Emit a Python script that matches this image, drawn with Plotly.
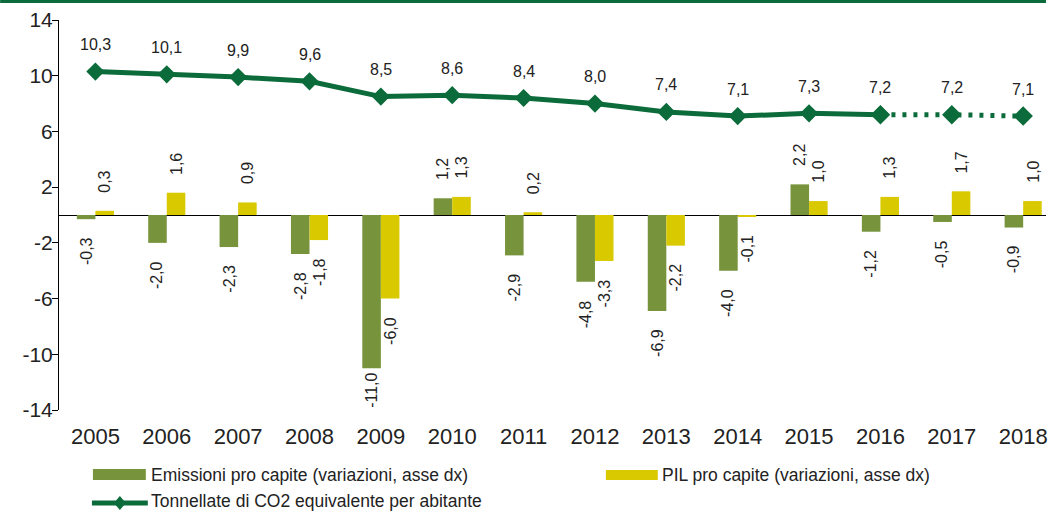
import plotly.graph_objects as go

# Data
years = ["2005", "2006", "2007", "2008", "2009", "2010", "2011",
         "2012", "2013", "2014", "2015", "2016", "2017", "2018"]
emissioni = [-0.3, -2.0, -2.3, -2.8, -11.0, 1.2, -2.9, -4.8, -6.9, -4.0, 2.2, -1.2, -0.5, -0.9]
pil = [0.3, 1.6, 0.9, -1.8, -6.0, 1.3, 0.2, -3.3, -2.2, -0.1, 1.0, 1.3, 1.7, 1.0]
tonnellate = [10.3, 10.1, 9.9, 9.6, 8.5, 8.6, 8.4, 8.0, 7.4, 7.1, 7.3, 7.2, 7.2, 7.1]
n_observed = 12  # 2005-2016 observed, 2017-2018 estimates (dotted)

y_ticks = [-14, -10, -6, -2, 2, 6, 10, 14]
y_ticktext = [str(v) for v in y_ticks]  # plain hyphen minus
Y_MIN, Y_MAX = -14, 14

label_emissioni = "Emissioni pro capite (variazioni, asse dx)"
label_pil = "PIL pro capite (variazioni, asse dx)"
label_tonn = "Tonnellate di CO2 equivalente per abitante"

GREEN_BAR = "#77933C"
YELLOW_BAR = "#D9C900"
LINE_GREEN = "#0B6B3A"
TEXT = "#222222"
FONT = "Liberation Sans, Arial, sans-serif"
LABEL_SIZE = 16

# Plot area in pixels
L, R, T, B = 59, 1048, 20, 410
W, H = R - L, B - T
PX_PER_UNIT = H / (Y_MAX - Y_MIN)


def fmt(v):
    return f"{v:.1f}".replace(".", ",")


def text_len_px(s, size):
    widths = {",": 0.278, "-": 0.333}
    return sum(widths.get(c, 0.556) for c in s) * size


fig = go.Figure()

fig.add_trace(go.Bar(x=years, y=emissioni, name=label_emissioni,
                     marker=dict(color=GREEN_BAR, line=dict(width=0)),
                     showlegend=False, hoverinfo="skip"))
fig.add_trace(go.Bar(x=years, y=pil, name=label_pil,
                     marker=dict(color=YELLOW_BAR, line=dict(width=0)),
                     showlegend=False, hoverinfo="skip"))

# Observed part of the series (solid)
fig.add_trace(go.Scatter(x=years[:n_observed], y=tonnellate[:n_observed],
                         mode="lines+markers", name=label_tonn,
                         line=dict(color=LINE_GREEN, width=5),
                         marker=dict(symbol="diamond", size=14, color=LINE_GREEN),
                         showlegend=False, hoverinfo="skip"))
# Estimated part (dotted)
fig.add_trace(go.Scatter(x=years[n_observed - 1:], y=tonnellate[n_observed - 1:],
                         mode="lines+markers",
                         line=dict(color=LINE_GREEN, width=5, dash="4px,7px"),
                         marker=dict(symbol="diamond", size=15, color=LINE_GREEN),
                         showlegend=False, hoverinfo="skip"))

annotations = []
# Line value labels (category index positions on the x axis)
for i, v in enumerate(tonnellate):
    annotations.append(dict(x=i, y=v, text=fmt(v), showarrow=False,
                            xref="x", yref="y", yshift=27,
                            font=dict(family=FONT, size=LABEL_SIZE, color=TEXT)))

# Bar value labels (rotated, outside the bar end, kept inside the plot area)
bar_offset = 9.5
gap = 16
for series, xs in ((emissioni, -bar_offset), (pil, bar_offset)):
    for i, v in enumerate(series):
        s = fmt(v)
        ann = dict(x=i, y=v, text=s, showarrow=False, xref="x", yref="y",
                   textangle=-90, xshift=xs,
                   font=dict(family=FONT, size=LABEL_SIZE, color=TEXT))
        if v >= 0:
            ann.update(yanchor="bottom", yshift=gap)
        else:
            room = (v - Y_MIN) * PX_PER_UNIT - gap
            if text_len_px(s, LABEL_SIZE) > room:
                ann.update(y=Y_MIN, yanchor="bottom", yshift=0)
            else:
                ann.update(yanchor="top", yshift=-gap)
        annotations.append(ann)


def px(x):
    return (x - L) / W


def py(y):
    return (B - y) / H


shapes = []
# top band
shapes.append(dict(type="rect", xref="paper", yref="paper",
                   x0=px(0), x1=px(1048), y0=py(3), y1=py(0),
                   fillcolor=LINE_GREEN, line=dict(width=0), layer="above"))
# legend swatches
shapes.append(dict(type="rect", xref="paper", yref="paper",
                   x0=px(93), x1=px(146), y0=py(480), y1=py(469),
                   fillcolor=GREEN_BAR, line=dict(width=0)))
shapes.append(dict(type="rect", xref="paper", yref="paper",
                   x0=px(607), x1=px(659), y0=py(480), y1=py(470),
                   fillcolor=YELLOW_BAR, line=dict(width=0)))
shapes.append(dict(type="line", xref="paper", yref="paper",
                   x0=px(92), x1=px(148), y0=py(503), y1=py(503),
                   line=dict(color=LINE_GREEN, width=5)))
dx, dy = 6, 7
cx, cy = 120, 503
shapes.append(dict(type="path", xref="paper", yref="paper",
                   path=f"M {px(cx - dx)} {py(cy)} L {px(cx)} {py(cy - dy)} "
                        f"L {px(cx + dx)} {py(cy)} L {px(cx)} {py(cy + dy)} Z",
                   fillcolor=LINE_GREEN, line=dict(width=0)))

for x0, y0, txt in ((149, 474.5, label_emissioni), (661, 474.5, label_pil),
                    (149, 501, label_tonn)):
    annotations.append(dict(x=px(x0), y=py(y0), xref="paper", yref="paper",
                            text=txt, showarrow=False, xanchor="left",
                            yanchor="middle",
                            font=dict(family=FONT, size=17.5, color=TEXT)))

fig.update_layout(
    width=1048, height=512,
    margin=dict(l=L, r=0, t=T, b=512 - B, pad=0),
    paper_bgcolor="white", plot_bgcolor="white",
    barmode="group", bargap=0.48, bargroupgap=0,
    showlegend=False,
    font=dict(family=FONT, color=TEXT),
    shapes=shapes, annotations=annotations,
    xaxis=dict(type="category", range=[-0.51, 13.32],
               showgrid=False, showline=False, zeroline=False,
               ticks="outside", ticklen=7, tickcolor="rgba(0,0,0,0)",
               tickfont=dict(family=FONT, size=22, color=TEXT)),
    yaxis=dict(range=[Y_MIN, Y_MAX], tickvals=y_ticks, ticktext=y_ticktext,
               showgrid=False, zeroline=True, zerolinecolor="#000000",
               zerolinewidth=1, showline=True, linecolor="#000000",
               linewidth=1, ticks="outside", ticklen=6, tickcolor="#000000",
               ticklabelstandoff=-5,
               tickfont=dict(family=FONT, size=21, color=TEXT)),
)

fig.write_html("out.html")
